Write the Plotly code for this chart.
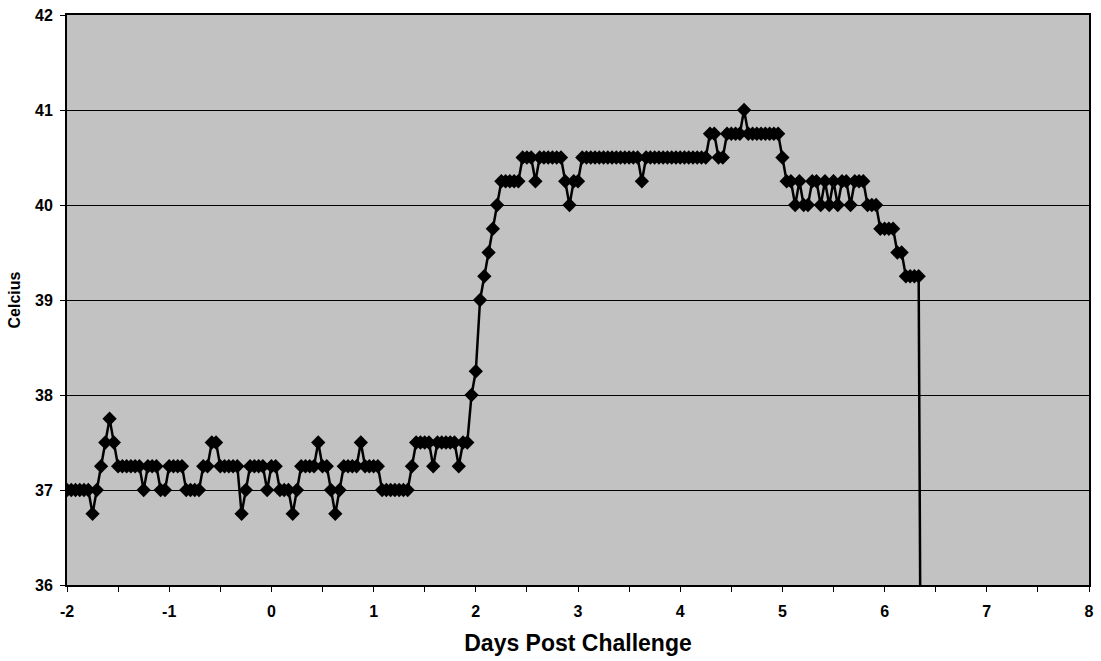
import plotly.graph_objects as go

# Hourly body-temperature readings (Celsius), starting at day -2 post challenge.
# One row per day (24 readings); the last reading is an off-scale drop.
start_day = -2.0
readings_per_day = 24
temps = [
    # day -2
    37, 37, 37, 37, 37, 37, 36.75, 37, 37.25, 37.5, 37.75, 37.5,
    37.25, 37.25, 37.25, 37.25, 37.25, 37.25, 37, 37.25, 37.25, 37.25, 37, 37,
    # day -1
    37.25, 37.25, 37.25, 37.25, 37, 37, 37, 37, 37.25, 37.25, 37.5, 37.5,
    37.25, 37.25, 37.25, 37.25, 37.25, 36.75, 37, 37.25, 37.25, 37.25, 37.25, 37,
    # day 0
    37.25, 37.25, 37, 37, 37, 36.75, 37, 37.25, 37.25, 37.25, 37.25, 37.5,
    37.25, 37.25, 37, 36.75, 37, 37.25, 37.25, 37.25, 37.25, 37.5, 37.25, 37.25,
    # day 1
    37.25, 37.25, 37, 37, 37, 37, 37, 37, 37, 37.25, 37.5, 37.5,
    37.5, 37.5, 37.25, 37.5, 37.5, 37.5, 37.5, 37.5, 37.25, 37.5, 37.5, 38.0,
    # day 2
    38.25, 39.0, 39.25, 39.5, 39.75, 40.0, 40.25, 40.25, 40.25, 40.25, 40.25, 40.5,
    40.5, 40.5, 40.25, 40.5, 40.5, 40.5, 40.5, 40.5, 40.5, 40.25, 40.0, 40.25,
    # day 3
    40.25, 40.5, 40.5, 40.5, 40.5, 40.5, 40.5, 40.5, 40.5, 40.5, 40.5, 40.5,
    40.5, 40.5, 40.5, 40.25, 40.5, 40.5, 40.5, 40.5, 40.5, 40.5, 40.5, 40.5,
    # day 4
    40.5, 40.5, 40.5, 40.5, 40.5, 40.5, 40.5, 40.75, 40.75, 40.5, 40.5, 40.75,
    40.75, 40.75, 40.75, 41.0, 40.75, 40.75, 40.75, 40.75, 40.75, 40.75, 40.75, 40.75,
    # day 5
    40.5, 40.25, 40.25, 40.0, 40.25, 40.0, 40.0, 40.25, 40.25, 40.0, 40.25, 40.0,
    40.25, 40.0, 40.25, 40.25, 40.0, 40.25, 40.25, 40.25, 40.0, 40.0, 40.0, 39.75,
    # day 6
    39.75, 39.75, 39.75, 39.5, 39.5, 39.25, 39.25, 39.25, 39.25, 30.0,
]
days = [start_day + i / readings_per_day for i in range(len(temps))]

x_ticks = [-2, -1, 0, 1, 2, 3, 4, 5, 6, 7, 8]
y_ticks = [36, 37, 38, 39, 40, 41, 42]

font_family = "Liberation Sans, Arial, sans-serif"

fig = go.Figure()
fig.add_trace(go.Scatter(
    x=days, y=temps, mode="lines+markers",
    line=dict(color="black", width=2.5),
    marker=dict(symbol="diamond", size=11, color="black"),
    showlegend=False,
))

fig.update_layout(
    width=1101, height=661,
    margin=dict(l=67, r=7, t=15, b=76),
    paper_bgcolor="white",
    plot_bgcolor="#c2c2c2",
    font=dict(family=font_family, color="black"),
    xaxis=dict(
        range=[-2, 8], tickvals=x_ticks, ticktext=[f"<b>{v}</b>" for v in x_ticks],
        showgrid=False, zeroline=False,
        showline=True, linecolor="black", linewidth=2, mirror=True,
        ticks="outside", ticklen=5, tickwidth=1, tickcolor="black",
        ticklabelstandoff=6,
        minor=dict(dtick=0.5, ticks="outside", ticklen=5, tickwidth=1, tickcolor="black", showgrid=False),
        tickfont=dict(size=16, family=font_family),
        title=dict(text="<b>Days Post Challenge</b>", font=dict(size=23, family=font_family), standoff=16),
    ),
    yaxis=dict(
        range=[36, 42], tickvals=y_ticks, ticktext=[f"<b>{v}</b>" for v in y_ticks],
        showgrid=True, gridcolor="black", gridwidth=1, zeroline=False,
        showline=True, linecolor="black", linewidth=2, mirror=True,
        ticks="outside", ticklen=5, tickwidth=1, tickcolor="black",
        ticklabelstandoff=4,
        tickfont=dict(size=16, family=font_family),
        title=dict(text="<b>Celcius</b>", font=dict(size=16, family=font_family), standoff=10),
    ),
)

fig.write_html("out.html")
